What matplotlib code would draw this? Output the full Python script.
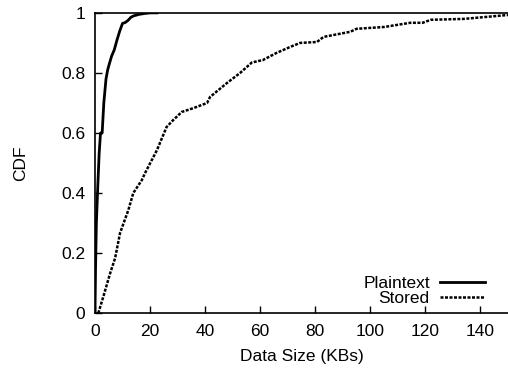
import matplotlib
matplotlib.use("Agg")
import matplotlib.pyplot as plt

plt.rcParams['font.family'] = ['Liberation Sans', 'DejaVu Sans']

# Plaintext CDF (data size in KB, cumulative fraction)
plain_x = [0, 0.2, 0.5, 1.0, 1.5, 2.0, 2.6, 3.2, 4.0, 4.6, 5.2, 6.0, 7.0,
           8.0, 9.0, 10.0, 11.0, 12.0, 13.0, 14.0, 16.0, 18.0, 20.0, 22.5]
plain_y = [0, 0.15, 0.30, 0.42, 0.53, 0.60, 0.60, 0.70, 0.78, 0.81, 0.83,
           0.855, 0.877, 0.91, 0.94, 0.965, 0.968, 0.975, 0.985, 0.99,
           0.995, 0.998, 1.0, 1.0]

# Stored CDF
stored_x = [1.2, 3.0, 5.5, 7.3, 9.1, 12.1, 13.9, 17.0, 18.2, 22.5, 26.0,
            28.4, 31.5, 35.8, 40.7, 41.8, 48.0, 52.7, 57.0, 61.0, 66.0,
            71.0, 74.5, 80.6, 83.0, 92.7, 95.0, 105.0, 114.5, 119.0, 122.0,
            134.0, 150.0]
stored_y = [0, 0.054, 0.133, 0.183, 0.267, 0.343, 0.40, 0.443, 0.467, 0.543,
            0.62, 0.643, 0.67, 0.683, 0.70, 0.72, 0.767, 0.80, 0.835, 0.843,
            0.867, 0.887, 0.90, 0.903, 0.92, 0.937, 0.947, 0.953, 0.967,
            0.967, 0.977, 0.98, 0.993]

x_ticks = [0, 20, 40, 60, 80, 100, 120, 140]
y_ticks = [0, 0.2, 0.4, 0.6, 0.8, 1]

fig = plt.figure(figsize=(5.08, 3.68), dpi=100)
ax = fig.add_axes([0.187, 0.149, 0.813, 0.816])

ax.plot(plain_x, plain_y, color='black', lw=2.0, label='Plaintext')
ax.plot(stored_x, stored_y, color='black', lw=1.8, linestyle=(0, (1.2, 0.6)),
        label='Stored')

ax.set_xlim(0, 150)
ax.set_ylim(0, 1)
ax.set_xticks(x_ticks)
ax.set_yticks(y_ticks)
ax.set_yticklabels(['0', '0.2', '0.4', '0.6', '0.8', '1'])
ax.tick_params(direction='in', length=5, width=1, labelsize=12.5)
ax.tick_params(axis='x', pad=8)
ax.tick_params(axis='y', pad=7)
ax.spines['right'].set_visible(False)
for s in ['left', 'bottom', 'top']:
    ax.spines[s].set_linewidth(1.2)

ax.set_xlabel('Data Size (KBs)', fontsize=12.5, labelpad=7)
ax.set_ylabel('CDF', fontsize=12.5, labelpad=24)

leg = ax.legend(loc='lower right', frameon=False, fontsize=12.5,
                markerfirst=False, handlelength=2.6, handletextpad=0.6,
                labelspacing=0.0, borderaxespad=0.0,
                bbox_to_anchor=(0.962, 0.0))
for t in leg.get_texts():
    t.set_ha('right')

fig.savefig('out.png', dpi=100)
